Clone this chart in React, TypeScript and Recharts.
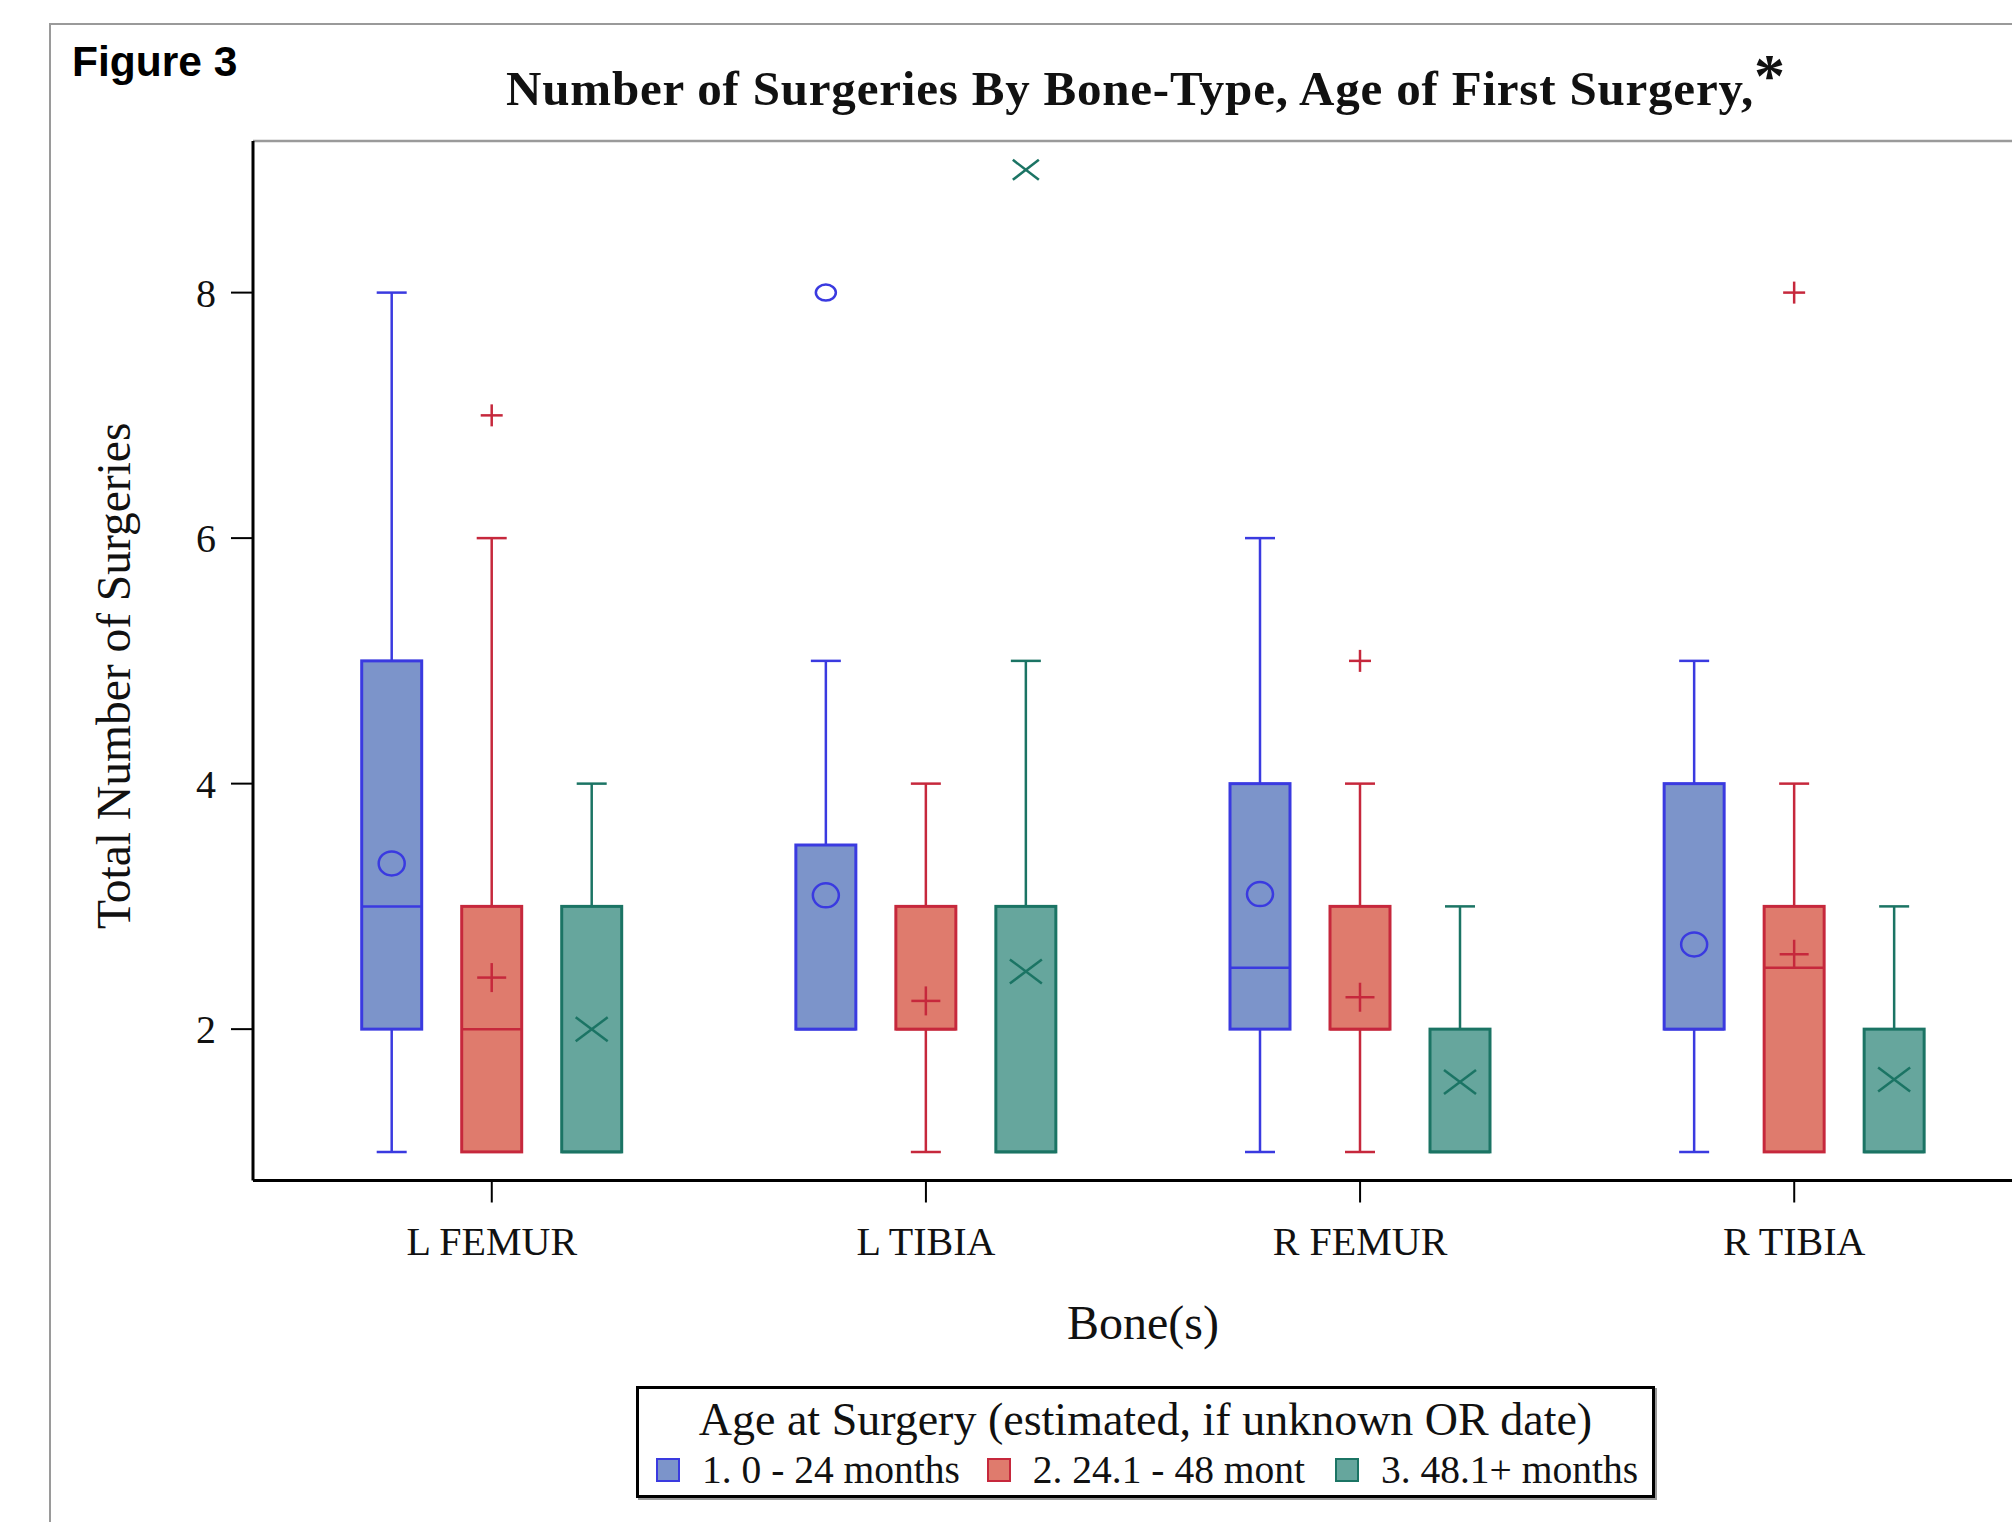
import React from 'react';
import { ComposedChart, Bar, XAxis, YAxis, ReferenceLine } from 'recharts';

const bones = ['L FEMUR', 'L TIBIA', 'R FEMUR', 'R TIBIA'];
const ageGroups = ['1. 0 - 24 months', '2. 24.1 - 48 mont', '3. 48.1+ months'];

// five-number summary per bone: [min, q1, median, q3, max]
const youngStats = [[1, 2, 3, 5, 8], [2, 2, 2, 3.5, 5], [1, 2, 2.5, 4, 6], [1, 2, 2, 4, 5]];
const middleStats = [[1, 1, 2, 3, 6], [1, 2, 2, 3, 4], [1, 2, 2, 3, 4], [1, 1, 2.5, 3, 4]];
const olderStats = [[1, 1, 1, 3, 4], [1, 1, 1, 3, 5], [1, 1, 1, 2, 3], [1, 1, 1, 2, 3]];

const youngMeans = [3.35, 3.09, 3.1, 2.69];
const middleMeans = [2.42, 2.23, 2.26, 2.61];
const olderMeans = [2.0, 2.47, 1.57, 1.59];

const youngOutliers = [[], [8], [], []];
const middleOutliers = [[7], [], [5], [8]];
const olderOutliers = [[], [9], [], []];

const yTicks = [2, 4, 6, 8];
const yDomain = [0.767, 9.235];

type MarkerKind = 'circle' | 'plus' | 'cross';

interface GroupDef {
    key: string;
    name: string;
    stats: number[][];
    means: number[];
    outliers: number[][];
    fill: string;
    stroke: string;
    marker: MarkerKind;
}

const groupDefs: GroupDef[] = [
    { key: 'young', name: ageGroups[0], stats: youngStats, means: youngMeans, outliers: youngOutliers, fill: '#7c94ca', stroke: '#3a3ae0', marker: 'circle' },
    { key: 'middle', name: ageGroups[1], stats: middleStats, means: middleMeans, outliers: middleOutliers, fill: '#df7b6d', stroke: '#c6283c', marker: 'plus' },
    { key: 'older', name: ageGroups[2], stats: olderStats, means: olderMeans, outliers: olderOutliers, fill: '#66a69d', stroke: '#1b7464', marker: 'cross' },
];

// each bar spans whisker-to-whisker; the shape fills in the rest
const rows = bones.map((bone, i) => ({
    bone,
    young: [youngStats[i][0], youngStats[i][4]],
    middle: [middleStats[i][0], middleStats[i][4]],
    older: [olderStats[i][0], olderStats[i][4]],
}));

const serif = '"Liberation Serif", "Times New Roman", serif';
const sans = '"Liberation Sans", Arial, sans-serif';

const Marker = ({ kind, cx, cy, big, color }: { kind: MarkerKind; cx: number; cy: number; big: boolean; color: string }) => {
    if (kind === 'circle') {
        return <ellipse cx={cx} cy={cy} rx={big ? 13 : 10} ry={big ? 12 : 8} fill="none" stroke={color} strokeWidth={2.5} />;
    }
    const h = big ? 14.5 : 11;
    if (kind === 'plus') {
        return (
            <g stroke={color} strokeWidth={2.5}>
                <line x1={cx - h} y1={cy} x2={cx + h} y2={cy} />
                <line x1={cx} y1={cy - h} x2={cx} y2={cy + h} />
            </g>
        );
    }
    const w = big ? 16 : 13;
    const v = big ? 12 : 10;
    return (
        <g stroke={color} strokeWidth={2.5}>
            <line x1={cx - w} y1={cy - v} x2={cx + w} y2={cy + v} />
            <line x1={cx - w} y1={cy + v} x2={cx + w} y2={cy - v} />
        </g>
    );
};

const makeBoxShape = (g: GroupDef) => (props: any) => {
    const { x, y, width, height, index } = props;
    const s = g.stats[index];
    const top = Math.min(y, y + height);
    const bot = Math.max(y, y + height);
    const py = (v: number) => bot - ((v - s[0]) / (s[4] - s[0])) * (bot - top);
    const cx = x + width / 2;
    const cap = 15;
    return (
        <g>
            {s[4] > s[3] && (
                <g stroke={g.stroke} strokeWidth={2.5}>
                    <line x1={cx} y1={py(s[4])} x2={cx} y2={py(s[3])} />
                    <line x1={cx - cap} y1={py(s[4])} x2={cx + cap} y2={py(s[4])} />
                </g>
            )}
            {s[0] < s[1] && (
                <g stroke={g.stroke} strokeWidth={2.5}>
                    <line x1={cx} y1={py(s[1])} x2={cx} y2={py(s[0])} />
                    <line x1={cx - cap} y1={py(s[0])} x2={cx + cap} y2={py(s[0])} />
                </g>
            )}
            <rect x={x} y={py(s[3])} width={width} height={py(s[1]) - py(s[3])} fill={g.fill} stroke={g.stroke} strokeWidth={3} />
            <line x1={x} y1={py(s[2])} x2={x + width} y2={py(s[2])} stroke={g.stroke} strokeWidth={2.5} />
            <Marker kind={g.marker} cx={cx} cy={py(g.means[index])} big color={g.stroke} />
            {g.outliers[index].map((o) => (
                <Marker key={o} kind={g.marker} cx={cx} cy={py(o)} big={false} color={g.stroke} />
            ))}
        </g>
    );
};

const YLabel = (props: any) => {
    const { viewBox } = props;
    const x = viewBox.x + 70;
    const y = viewBox.y + viewBox.height / 2 + 15;
    return (
        <text x={x} y={y} transform={`rotate(-90, ${x}, ${y})`} textAnchor="middle" fontFamily={serif} fontSize={47.5} fill="#111">
            Total Number of Surgeries
        </text>
    );
};

const App = () => {
    return (
        <div style={{ position: 'fixed', left: 0, top: 0, width: 2012, height: 1522, overflow: 'hidden', background: '#fff' }}>
            <div style={{ position: 'absolute', left: 49, top: 23, right: -10, bottom: -10, borderTop: '2px solid #9a9a9a', borderLeft: '2px solid #9a9a9a' }} />
            <div style={{ position: 'absolute', left: 72, top: 41, fontFamily: sans, fontWeight: 'bold', fontSize: 42.5, lineHeight: 1, color: '#000' }}>
                Figure 3
            </div>
            <div style={{ position: 'absolute', left: 1146 - 700, top: 64, width: 1400, textAlign: 'center', fontFamily: serif, fontWeight: 'bold', fontSize: 49, letterSpacing: 0.8, lineHeight: 1, color: '#111', whiteSpace: 'nowrap' }}>
                Number of Surgeries By Bone-Type, Age of First Surgery,<span style={{ position: 'relative', top: -9, fontSize: 62, lineHeight: 0 }}>*</span>
            </div>

            <div style={{ position: 'absolute', left: 0, top: 0 }}>
                <ComposedChart width={2060} height={1522} data={rows} margin={{ top: 141, right: 27, left: 60, bottom: 141.5 }} barSize={60} barGap={40}>
                    <ReferenceLine y={yDomain[1]} stroke="#9a9a9a" strokeWidth={2.5} ifOverflow="visible" />
                    <XAxis
                        dataKey="bone"
                        height={200}
                        padding={{ left: 21.7, right: 21.7 }}
                        axisLine={{ stroke: '#000', strokeWidth: 3 }}
                        tickLine={{ stroke: '#000', strokeWidth: 2 }}
                        tickSize={22}
                        tickMargin={24}
                        tick={{ fontFamily: serif, fontSize: 40, fill: '#111' }}
                        label={{ value: 'Bone(s)', position: 'insideBottom', offset: 42, fontFamily: serif, fontSize: 48, fill: '#111' }}
                    />
                    <YAxis
                        type="number"
                        width={193}
                        domain={yDomain}
                        ticks={yTicks}
                        allowDataOverflow
                        axisLine={{ stroke: '#000', strokeWidth: 3 }}
                        tickLine={{ stroke: '#000', strokeWidth: 2 }}
                        tickSize={22}
                        tickMargin={15}
                        tick={{ fontFamily: serif, fontSize: 40, fill: '#111' }}
                        label={<YLabel />}
                    />
                    {groupDefs.map((g) => (
                        <Bar key={g.key} dataKey={g.key} name={g.name} isAnimationActive={false} shape={makeBoxShape(g)} />
                    ))}
                </ComposedChart>
            </div>

            <div style={{ position: 'absolute', left: 636, top: 1386, width: 1013, height: 106, border: '3px solid #000', boxShadow: '2px 2px 0 #999', fontFamily: serif, color: '#111' }}>
                <div style={{ textAlign: 'center', fontSize: 46, lineHeight: '50px', marginTop: 6 }}>Age at Surgery (estimated, if unknown OR date)</div>
                <div style={{ display: 'flex', alignItems: 'center', paddingLeft: 17, marginTop: 2, fontSize: 39.5, lineHeight: '46px' }}>
                    {groupDefs.map((g, i) => (
                        <div key={g.key} style={{ display: 'flex', alignItems: 'center', marginRight: i === 0 ? 27 : 30 }}>
                            <div style={{ width: 20, height: 20, background: g.fill, border: `2.5px solid ${g.stroke}`, marginRight: 22 }} />
                            <span style={{ whiteSpace: 'nowrap' }}>{g.name}</span>
                        </div>
                    ))}
                </div>
            </div>
        </div>
    );
};

export default App;
